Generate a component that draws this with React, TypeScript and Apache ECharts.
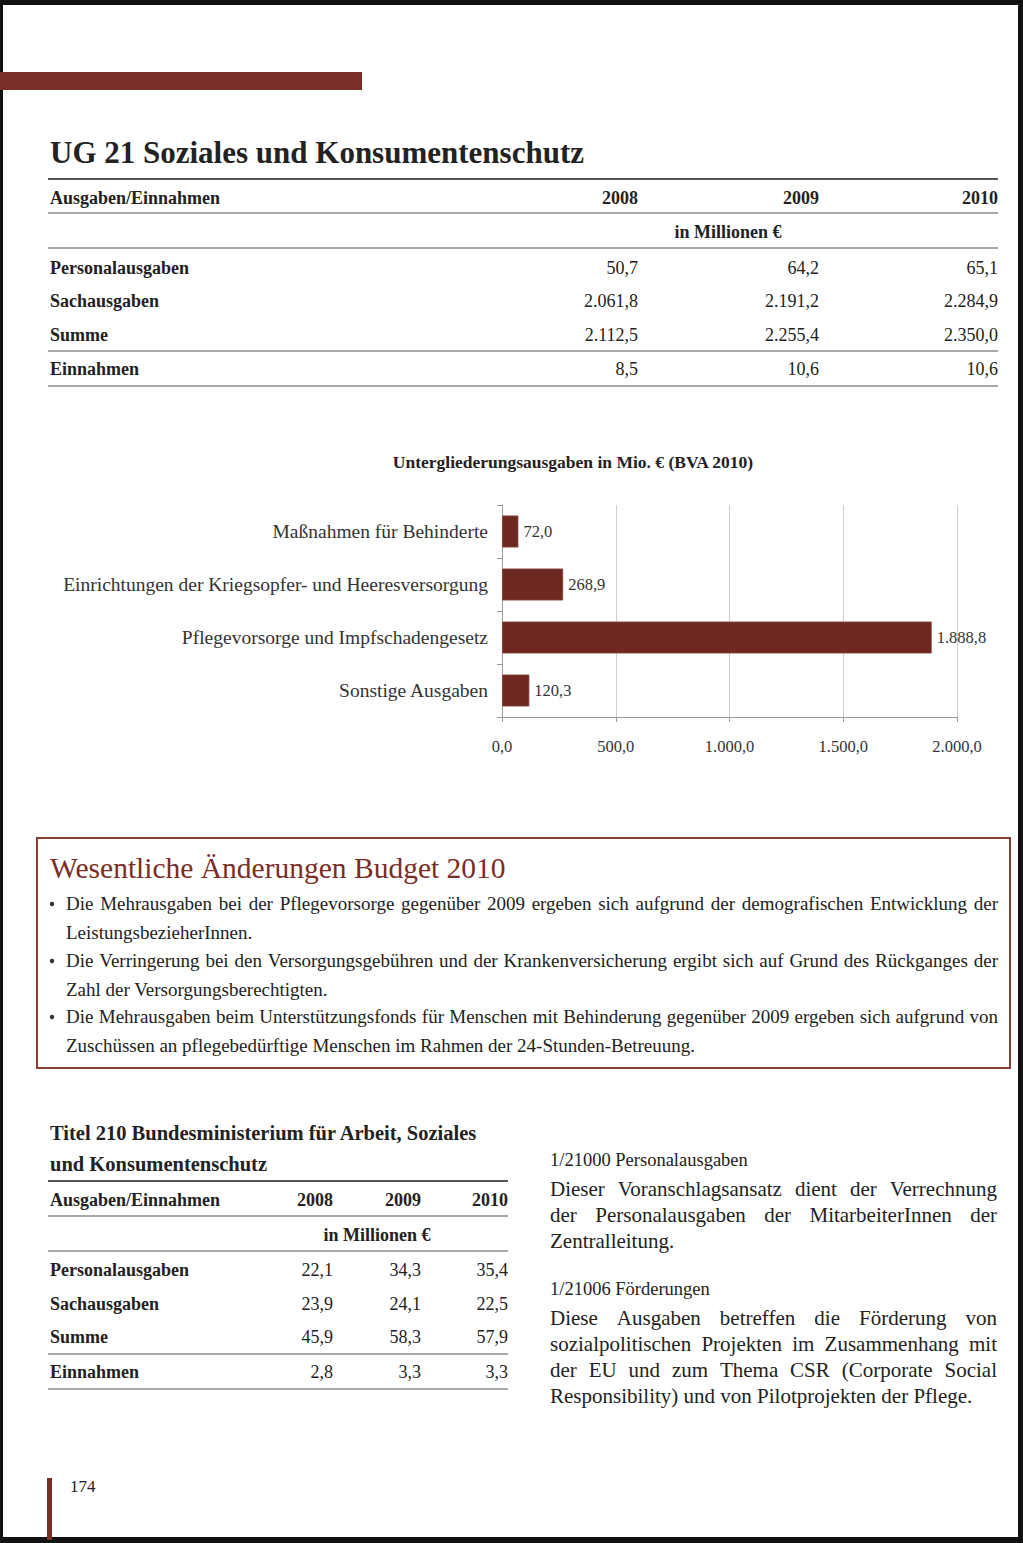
import React, { useEffect, useRef } from 'react';
import * as echarts from 'echarts';

const SERIF = '"Liberation Serif", "DejaVu Serif", serif';
const RED = '#7a2e27';
const INK = '#222222';

// ---------- data ----------
const years = ['2008', '2009', '2010'];
const rowLabels = ['Personalausgaben', 'Sachausgaben', 'Summe', 'Einnahmen'];
const ugPersonal = [50.7, 64.2, 65.1];
const ugSach = [2061.8, 2191.2, 2284.9];
const ugSumme = [2112.5, 2255.4, 2350.0];
const ugEinnahmen = [8.5, 10.6, 10.6];
const t210Personal = [22.1, 34.3, 35.4];
const t210Sach = [23.9, 24.1, 22.5];
const t210Summe = [45.9, 58.3, 57.9];
const t210Einnahmen = [2.8, 3.3, 3.3];

const chartCategories = [
  'Maßnahmen für Behinderte',
  'Einrichtungen der Kriegsopfer- und Heeresversorgung',
  'Pflegevorsorge und Impfschadengesetz',
  'Sonstige Ausgaben',
];
const chartValues = [72.0, 268.9, 1888.8, 120.3];

const pageTitle = 'UG 21 Soziales und Konsumentenschutz';
const chartTitle = 'Untergliederungsausgaben in Mio. € (BVA 2010)';
const unitLabel = 'in Millionen €';
const headLabel = 'Ausgaben/Einnahmen';
const boxTitle = 'Wesentliche Änderungen Budget 2010';
const bulletLines = [
  { t: 'Die Mehrausgaben bei der Pflegevorsorge gegenüber 2009 ergeben sich aufgrund der demografischen Entwicklung der', j: true, b: true },
  { t: 'LeistungsbezieherInnen.', j: false, b: false },
  { t: 'Die Verringerung bei den Versorgungsgebühren und der Krankenversicherung ergibt sich auf Grund des Rückganges der', j: true, b: true },
  { t: 'Zahl der Versorgungsberechtigten.', j: false, b: false },
  { t: 'Die Mehrausgaben beim Unterstützungsfonds für Menschen mit Behinderung gegenüber 2009 ergeben sich aufgrund von', j: true, b: true },
  { t: 'Zuschüssen an pflegebedürftige Menschen im Rahmen der 24-Stunden-Betreuung.', j: false, b: false },
];
const t210Title = ['Titel 210 Bundesministerium für Arbeit, Soziales', 'und Konsumentenschutz'];
const head1 = '1/21000 Personalausgaben';
const para1 = [
  { t: 'Dieser Voranschlagsansatz dient der Verrechnung', j: true },
  { t: 'der Personalausgaben der MitarbeiterInnen der', j: true },
  { t: 'Zentralleitung.', j: false },
];
const head2 = '1/21006 Förderungen';
const para2 = [
  { t: 'Diese Ausgaben betreffen die Förderung von', j: true },
  { t: 'sozialpolitischen Projekten im Zusammenhang mit', j: true },
  { t: 'der EU und zum Thema CSR (Corporate Social', j: true },
  { t: 'Responsibility) und von Pilotprojekten der Pflege.', j: false },
];
const pageNumber = '174';

// ---------- helpers ----------
function fmt(v: number): string {
  const [i, d] = v.toFixed(1).split('.');
  return i.replace(/\B(?=(\d{3})+(?!\d))/g, '.') + ',' + d;
}

let measureCtx: CanvasRenderingContext2D | null = null;
function measure(text: string, size: number, weight = 'normal'): number {
  if (!measureCtx) measureCtx = document.createElement('canvas').getContext('2d');
  measureCtx!.font = `${weight} ${size}px ${SERIF}`;
  return measureCtx!.measureText(text).width;
}

type TOpt = { size: number; weight?: string; fill?: string; align?: string };
function txt(text: string, x: number, y: number, o: TOpt): any {
  return {
    type: 'text',
    x,
    y,
    silent: true,
    style: {
      text,
      fontSize: o.size,
      fontFamily: SERIF,
      fontWeight: o.weight || 'normal',
      fill: o.fill || INK,
      textAlign: o.align || 'left',
      textVerticalAlign: 'middle',
    },
  };
}

function justified(line: string, x0: number, x1: number, y: number, o: TOpt): any[] {
  const words = line.split(' ');
  const widths = words.map((w) => measure(w, o.size, o.weight || 'normal'));
  const total = widths.reduce((a, b) => a + b, 0);
  const gap = words.length > 1 ? (x1 - x0 - total) / (words.length - 1) : 0;
  let x = x0;
  return words.map((w, i) => {
    const el = txt(w, x, y, o);
    x += widths[i] + gap;
    return el;
  });
}

function hline(x1: number, x2: number, y: number, w = 1.2, c = '#555'): any {
  return { type: 'line', silent: true, shape: { x1, y1: y, x2, y2: y }, style: { stroke: c, lineWidth: w } };
}

function rect(x: number, y: number, width: number, height: number, fill: string): any {
  return { type: 'rect', silent: true, shape: { x, y, width, height }, style: { fill } };
}

function buildTable(cfg: {
  x0: number; x1: number; cols: number[]; unitX: number;
  lines: number[]; rowsY: number[]; headY: number; unitY: number;
  values: number[][]; size: number;
}): any[] {
  const els: any[] = [];
  cfg.lines.forEach((y, i) => els.push(hline(cfg.x0 - 2, cfg.x1, y, i === 0 ? 1.8 : 1.2)));
  els.push(txt(headLabel, cfg.x0, cfg.headY, { size: cfg.size, weight: 'bold' }));
  years.forEach((yr, i) => els.push(txt(yr, cfg.cols[i], cfg.headY, { size: cfg.size, weight: 'bold', align: 'right' })));
  els.push(txt(unitLabel, cfg.unitX, cfg.unitY, { size: cfg.size, weight: 'bold', align: 'center' }));
  rowLabels.forEach((lab, r) => {
    els.push(txt(lab, cfg.x0, cfg.rowsY[r], { size: cfg.size, weight: 'bold' }));
    cfg.values[r].forEach((v, c) =>
      els.push(txt(fmt(v), cfg.cols[c], cfg.rowsY[r], { size: cfg.size, align: 'right' }))
    );
  });
  return els;
}

function buildGraphics(): any[] {
  const els: any[] = [];
  // scan borders
  els.push(rect(0, 0, 1023, 5, '#111'));
  els.push(rect(0, 0, 3, 1543, '#111'));
  els.push(rect(1018, 0, 5, 1543, '#111'));
  els.push(rect(0, 1537, 1023, 6, '#111'));
  // top red bar
  els.push(rect(0, 72, 362, 18, RED));
  // page title
  els.push(txt(pageTitle, 50, 152, { size: 31, weight: 'bold' }));
  // UG table
  els.push(
    ...buildTable({
      x0: 50, x1: 998, cols: [638, 819, 998], unitX: 728,
      lines: [179, 213, 248, 351, 386], headY: 198, unitY: 232,
      rowsY: [268, 301, 335, 369],
      values: [ugPersonal, ugSach, ugSumme, ugEinnahmen], size: 18,
    })
  );
  // chart title
  els.push(txt(chartTitle, 573, 462, { size: 17.5, weight: 'bold', align: 'center' }));
  // box
  els.push({
    type: 'rect', silent: true,
    shape: { x: 37, y: 838, width: 973, height: 230 },
    style: { fill: 'none', stroke: '#8a3d35', lineWidth: 2 },
  });
  els.push(txt(boxTitle, 50, 868, { size: 29.5, fill: RED }));
  const bY = [903, 932, 960, 989, 1016, 1045];
  bulletLines.forEach((l, i) => {
    if (l.b) els.push({ type: 'circle', silent: true, shape: { cx: 52, cy: bY[i] + 1, r: 2.2 }, style: { fill: '#333' } });
    if (l.j) els.push(...justified(l.t, 66, 998, bY[i], { size: 19 }));
    else els.push(txt(l.t, 66, bY[i], { size: 19 }));
  });
  // Titel 210 table
  els.push(txt(t210Title[0], 50, 1133, { size: 20.5, weight: 'bold' }));
  els.push(txt(t210Title[1], 50, 1164, { size: 20.5, weight: 'bold' }));
  els.push(
    ...buildTable({
      x0: 50, x1: 508, cols: [333, 421, 508], unitX: 377,
      lines: [1181, 1216, 1251, 1354, 1389], headY: 1200, unitY: 1235,
      rowsY: [1270, 1304, 1337, 1372],
      values: [t210Personal, t210Sach, t210Summe, t210Einnahmen], size: 18,
    })
  );
  // right text column
  els.push(txt(head1, 550, 1160, { size: 18.5 }));
  const p1Y = [1189, 1215, 1241];
  para1.forEach((l, i) => {
    if (l.j) els.push(...justified(l.t, 550, 997, p1Y[i], { size: 21 }));
    else els.push(txt(l.t, 550, p1Y[i], { size: 21 }));
  });
  els.push(txt(head2, 550, 1289, { size: 18.5 }));
  const p2Y = [1318, 1344, 1370, 1396];
  para2.forEach((l, i) => {
    if (l.j) els.push(...justified(l.t, 550, 997, p2Y[i], { size: 21 }));
    else els.push(txt(l.t, 550, p2Y[i], { size: 21 }));
  });
  // page number
  els.push(rect(47, 1478, 5, 62, RED));
  els.push(txt(pageNumber, 70, 1486, { size: 17 }));
  return els;
}

export default function App() {
  const ref = useRef<HTMLDivElement>(null);
  useEffect(() => {
    const chart = echarts.init(ref.current!, null, { renderer: 'svg' });
    chart.setOption({
      animation: false,
      backgroundColor: '#ffffff',
      textStyle: { fontFamily: SERIF },
      grid: { left: 502, top: 505, width: 455, height: 212, containLabel: false },
      xAxis: {
        type: 'value',
        min: 0,
        max: 2000,
        interval: 500,
        axisLine: { show: true, lineStyle: { color: '#9a9a9a', width: 1 } },
        axisTick: { show: true, length: 5, lineStyle: { color: '#9a9a9a' } },
        splitLine: { show: true, lineStyle: { color: '#cfcfcf', width: 1 } },
        axisLabel: { margin: 21, fontSize: 16.5, color: '#333', fontFamily: SERIF, formatter: (v: number) => fmt(v) },
      },
      yAxis: {
        type: 'category',
        inverse: true,
        data: chartCategories,
        axisLine: { show: true, lineStyle: { color: '#9a9a9a', width: 1 } },
        axisTick: { show: true, length: 5, lineStyle: { color: '#9a9a9a' } },
        axisLabel: { margin: 14, fontSize: 19.5, color: '#333', fontFamily: SERIF },
      },
      series: [
        {
          type: 'bar',
          data: chartValues,
          barWidth: 32,
          itemStyle: { color: '#6d2921', borderColor: '#8c4a42', borderWidth: 0.8 },
          label: {
            show: true,
            position: 'right',
            distance: 5,
            fontSize: 16.5,
            color: '#333',
            fontFamily: SERIF,
            formatter: (p: any) => fmt(p.value),
          },
        },
      ],
      graphic: { elements: buildGraphics() },
    });
    return () => chart.dispose();
  }, []);
  return (
    <div
      ref={ref}
      style={{ position: 'absolute', left: 0, top: 0, width: 1023, height: 1543, background: '#fff' }}
    />
  );
}
